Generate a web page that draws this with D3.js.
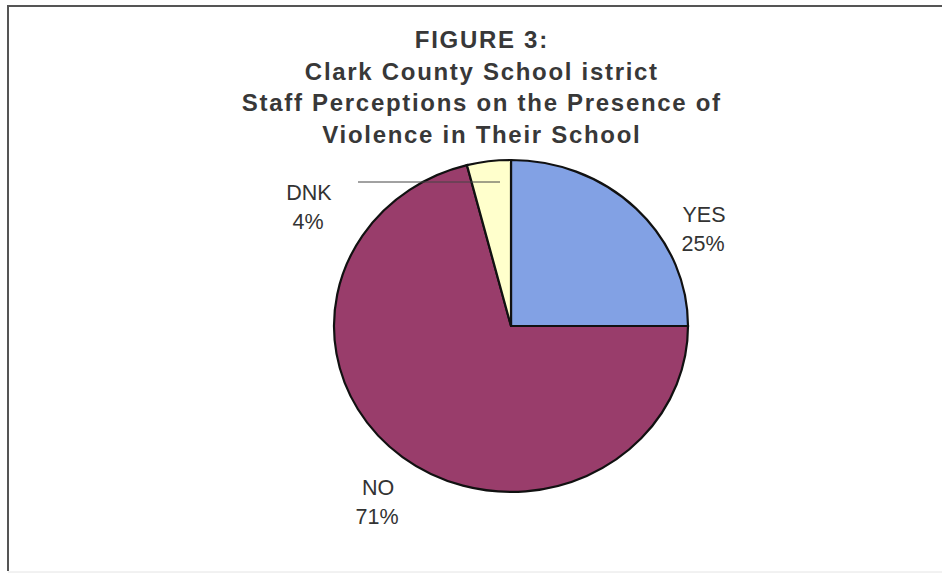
<!DOCTYPE html>
<html>
<head>
<meta charset="utf-8">
<script src="https://cdn.jsdelivr.net/npm/d3@7"></script>
<style>
  html, body { margin: 0; padding: 0; background: #ffffff; }
  svg { display: block; }
</style>
</head>
<body>
<svg id="chart" width="942" height="574"></svg>
<script>
// ---- data ----
const titleLines = ["FIGURE 3:", "Clark County School istrict", "Staff Perceptions on the Presence of", "Violence in Their School"];
const categories = ["YES", "NO", "DNK"];
const values = [25, 71, 4];
const percentLabels = ["25%", "71%", "4%"];
const colors = ["#82a1e4", "#993d6b", "#ffffcc"];

// ---- layout ----
const svg = d3.select("#chart");
const W = 942, H = 574;
const cx = 511, cy = 326, rx = 177, ry = 166;

// frame
svg.append("path")
  .attr("d", `M8,${H - 3} L8,6 L${W + 5},6`)
  .attr("fill", "none").attr("stroke", "#555").attr("stroke-width", 2);
svg.append("line")
  .attr("x1", 8).attr("x2", W).attr("y1", H - 2).attr("y2", H - 2)
  .attr("stroke", "#e4e4e4").attr("stroke-width", 1);

// title
const ls = 1.7;
const title = svg.append("g").attr("font-family", "Arial, 'Liberation Sans', sans-serif")
  .attr("font-weight", "bold").attr("font-size", 24).attr("fill", "#383838")
  .attr("text-anchor", "middle");
titleLines.forEach((t, i) => {
  title.append("text").attr("x", 481 + ls / 2).attr("y", 48 + i * 31.7)
    .attr("letter-spacing", ls + "px").text(t);
});

// pie
const pie = d3.pie().sort(null).value(d => d.v)
  .startAngle(0).endAngle(2 * Math.PI);
const data = categories.map((c, i) => ({ c, v: values[i], col: colors[i], p: percentLabels[i] }));
const arcs = pie(data);
const arc = d3.arc().innerRadius(0).outerRadius(1);

const pg = svg.append("g").attr("transform", `translate(${cx},${cy}) scale(${rx},${ry})`);
pg.selectAll("path").data(arcs).join("path")
  .attr("d", arc)
  .attr("fill", d => d.data.col)
  .attr("stroke", "#111")
  .attr("stroke-width", 2.2)
  .attr("vector-effect", "non-scaling-stroke")
  .attr("stroke-linejoin", "miter");

// leader line for DNK
svg.append("line")
  .attr("x1", 358).attr("x2", 500).attr("y1", 182).attr("y2", 182)
  .attr("stroke", "#444").attr("stroke-width", 1);

// labels
const labelPos = { YES: [704, 222], NO: [378, 495], DNK: [309, 200] };
const lg = svg.append("g").attr("font-family", "Arial, 'Liberation Sans', sans-serif")
  .attr("font-size", 21.5).attr("fill", "#333").attr("text-anchor", "middle");
arcs.forEach(a => {
  const [x, y] = labelPos[a.data.c];
  lg.append("text").attr("x", x).attr("y", y).text(a.data.c);
  lg.append("text").attr("x", x - 1).attr("y", y + 28.5).text(a.data.p);
});
</script>
</body>
</html>
